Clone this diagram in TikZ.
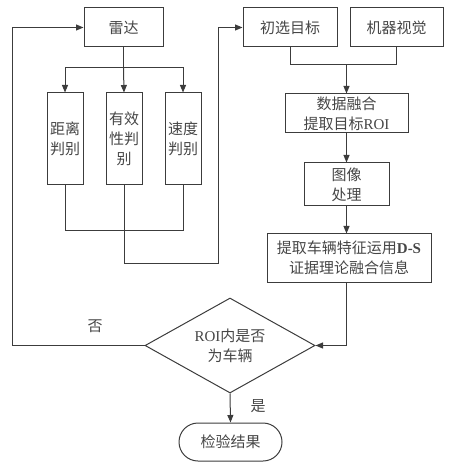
\documentclass[tikz,border=0pt]{standalone}
\usepackage{fontspec}
\setmainfont{Liberation Serif}
\newfontfamily\cjk{Noto Sans CJK SC}
\usepackage{tikz}
\usetikzlibrary{
  shapes.geometric,
  arrows.meta,
  positioning
}
\definecolor{LineGray}{RGB}{60, 60, 60}
\definecolor{TextGray}{RGB}{70, 70, 70}
\tikzset{
    box/.style={draw=LineGray, rectangle, inner sep=1pt, align=center,
        text=TextGray, font=\cjk\fontsize{9}{12}\selectfont},
    tallbox/.style={box, minimum width=21.6pt, minimum height=55.2pt},
    decision/.style={draw=LineGray, diamond, aspect=1.8, inner sep=0pt, align=center,
        minimum width=102pt, minimum height=57pt,
        text=TextGray, font=\cjk\fontsize{9}{12}\selectfont},
    terminal/.style={box, rounded corners=11.4pt, minimum width=61.8pt, minimum height=22.8pt},
    lbl/.style={text=TextGray, font=\cjk\fontsize{9}{12}\selectfont},
    arr/.style={-{Triangle[length=4.5pt, width=3.6pt]}},
}

\begin{document}
\begin{tikzpicture}[x=0.6pt, y=-0.6pt, line width=0.6pt, draw=LineGray]
    \useasboundingbox (0,0) rectangle (450,468);
    % top row
    \node[box, minimum width=47.4pt, minimum height=23.4pt] (leida) at (123.5,27.5) {雷达};
    \node[box, minimum width=56.4pt, minimum height=23.4pt] (chuxuan) at (290,27.5) {初选目标};
    \node[box, minimum width=55.8pt, minimum height=23.4pt] (shijue) at (396.5,27.5) {机器视觉};
    % radar checks
    \node[tallbox] (juli) at (65,139) {距离\\判别};
    \node[tallbox] (youxiao) at (124,139) {有效\\性判\\别};
    \node[tallbox] (sudu) at (183,139) {速度\\判别};
    % fusion chain
    \node[box, minimum width=73.8pt, minimum height=23.4pt] (ronghe) at (346.5,113.5) {数据融合\\提取目标{\rmfamily ROI}};
    \node[box, minimum width=51pt, minimum height=25.8pt] (tuxiang) at (346.5,184.5) {图像\\处理};
    \node[box, minimum width=98.4pt, minimum height=28.8pt] (tiqu) at (349,258) {提取车辆特征运用{\rmfamily\bfseries D-S}\\证据理论融合信息};
    \node[decision] (panduan) at (230,345.5) {{\rmfamily ROI}内是否\\为车辆};
    \node[terminal] (jieguo) at (230.5,442) {检验结果};
    \node[lbl] (fou) at (95,326) {否};
    \node[lbl] (shi) at (258,406) {是};

    % radar split
    \coordinate (split) at (123.5,68);
    \draw (leida) -- (split);
    \draw[arr] (split) -| (juli.north);
    \draw[arr] (split) -- (youxiao.north);
    \draw[arr] (split) -| (sudu.north);
    % radar merge
    \coordinate (merge) at (124,231);
    \coordinate (turn) at (218,263);
    \draw (juli.south) |- (merge);
    \draw (sudu.south) |- (merge);
    \draw[arr] (youxiao.south) |- (turn) |- (chuxuan.west);
    % vision merge
    \coordinate (join) at (346.5,65);
    \draw (chuxuan.south) |- (join);
    \draw (shijue.south) |- (join);
    \draw[arr] (join) -- (ronghe.north);
    \draw[arr] (ronghe.south) -- (tuxiang.north);
    \draw[arr] (tuxiang.south) -- (tuxiang.south |- tiqu.north);
    \draw[arr] (tiqu.south -| tuxiang.south) |- (panduan.east);
    % decision outputs
    \coordinate (back) at (12,345.5);
    \draw[arr] (panduan.west) -- (back) |- (leida.west);
    \draw[arr] (panduan.south) -- (jieguo.north);
\end{tikzpicture}
\end{document}
